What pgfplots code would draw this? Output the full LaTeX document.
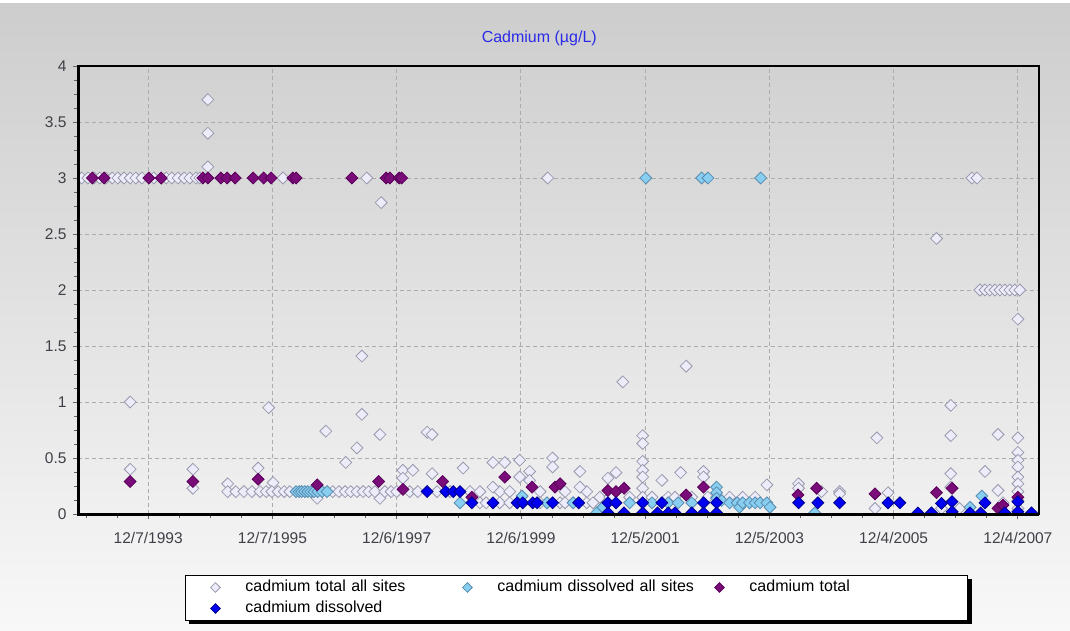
\documentclass[border=0pt]{standalone}
\usepackage{fontspec}
\setmainfont{Liberation Sans}
\usepackage{pgfplots}
\pgfplotsset{compat=1.18}
\definecolor{bgtop}{HTML}{CDCDCD}
\definecolor{bgbot}{HTML}{F8F8F8}
\definecolor{hollowfill}{HTML}{ECECFA}
\definecolor{hollowdraw}{HTML}{9A9AAE}
\definecolor{lbfill}{HTML}{87CEF0}
\definecolor{lbdraw}{HTML}{5A8CB0}
\definecolor{purp}{HTML}{7A0C7A}
\definecolor{purpdraw}{HTML}{5A005A}
\definecolor{bluef}{HTML}{0000F0}
\definecolor{bluedraw}{HTML}{00008C}
\definecolor{titleblue}{HTML}{2B2BE8}
\definecolor{ticklab}{HTML}{404048}
\pgfplotsset{
  mk/.style={only marks, mark=square*, mark size=4.2pt, mark options={rotate=45, line width=0.8pt},
    legend image code/.code={\path[draw=none,fill=none] (0pt,-5pt) rectangle (44pt,5pt); \draw[##1, mark size=3.4pt] plot coordinates {(17pt,0pt)};}},
}
\begin{document}
\begin{tikzpicture}
\useasboundingbox (0,0) rectangle (1070pt,630pt);
\shade[top color=bgtop, bottom color=bgbot] (0,0) rectangle (1070pt,630pt);
\fill[white] (0,627pt) rectangle (1070pt,630pt);
% legend shadow
\fill[black] (189pt,6pt) rectangle (972pt,51pt);
\begin{axis}[
  scale only axis, width=961pt, height=448pt,
  at={(78pt,116pt)}, anchor=south west,
  xmin=1992.80, xmax=2008.27, ymin=0, ymax=4,
  xtick={1993.93,1995.93,1997.93,1999.93,2001.93,2003.93,2005.93,2007.93},
  xticklabels={12/7/1993,12/7/1995,12/6/1997,12/6/1999,12/5/2001,12/5/2003,12/4/2005,12/4/2007},
  minor xtick={1992.93,1993.43,1994.43,1994.93,1995.43,1996.43,1996.93,1997.43,1998.43,1998.93,1999.43,2000.43,2000.93,2001.43,2002.43,2002.93,2003.43,2004.43,2004.93,2005.43,2006.43,2006.93,2007.43},
  ytick={0,0.5,1,1.5,2,2.5,3,3.5,4},
  yticklabels={0,0.5,1,1.5,2,2.5,3,3.5,4},
  minor y tick num=3,
  tick pos=left, tick align=outside,
  major tick length=5pt, minor tick length=4pt,
  every tick/.style={color=gray!80!black, line width=0.8pt},
  grid=major,
  major grid style={dash pattern=on 4pt off 3pt, color=gray!65, line width=0.9pt},
  axis line style={black, line width=1.5pt},
  tick label style={font=\fontsize{15.5}{18}\selectfont, color=ticklab},
  /pgf/number format/assume math mode=true,
  xticklabel style={yshift=-10pt},
  yticklabel style={xshift=-3pt},
  title={Cadmium (µg/L)},
  title style={at={(axis description cs:0.48,1.049)}, anchor=center, font=\fontsize{16}{19}\selectfont, color=titleblue},
  clip marker paths=true,
  legend columns=3, legend cell align=left,
  legend style={at={(axis description cs:0.1113,-0.1362)}, anchor=north west,
    draw=black, line width=1pt, fill=white,
    inner xsep=13pt, inner ysep=1.5pt,
    font=\fontsize{16}{18}\selectfont,
    nodes={text width=202pt, text height=11pt, text depth=4pt, inner ysep=3pt, inner xsep=3pt, align=left}},
  after end axis/.code={\draw[black, line width=3pt] (rel axis cs:0,1) -- (rel axis cs:0,0) -- (rel axis cs:1,0);},
]
% cadmium total all sites
\addplot[mk, draw=hollowdraw, fill=hollowfill] coordinates {
(1992.86,3)(1992.96,3)(1993.06,3)(1993.15,3)(1993.25,3)(1993.35,3)(1993.44,3)(1993.54,3)(1993.64,3)(1993.73,3)(1993.83,3)(1994.02,3)(1994.22,3)(1994.31,3)(1994.41,3)(1994.51,3)(1994.60,3)(1994.70,3)(1994.76,3)(1996.10,3)(1997.45,3)(2000.36,3)(2007.19,3)(2007.27,3)
(1994.89,3.1)(1994.89,3.4)(1994.89,3.7)(1997.68,2.78)(2006.62,2.46)
(2007.32,2)(2007.40,2)(2007.48,2)(2007.56,2)(2007.64,2)(2007.72,2)(2007.80,2)(2007.88,2)(2007.96,2)
(2007.93,1.74)(2002.59,1.32)(1997.37,1.41)(1997.37,0.89)(2001.57,1.18)(1993.64,1.0)(1993.64,0.40)(1995.87,0.95)
(2006.85,0.97)(2006.85,0.70)(2006.85,0.36)(2006.85,0.24)
(1996.79,0.74)(1997.66,0.71)(1997.66,0.14)(1998.42,0.73)(1998.50,0.71)(1998.50,0.36)(1997.29,0.59)(1997.11,0.46)
(2001.89,0.70)(2001.89,0.63)(2001.89,0.47)(2001.89,0.39)(2001.89,0.33)(2001.89,0.23)(2001.89,0.15)
(2007.61,0.71)(2007.61,0.21)
(2007.93,0.68)(2007.93,0.55)(2007.93,0.48)(2007.93,0.42)(2007.93,0.33)(2007.93,0.27)(2007.93,0.20)(2007.93,0.12)
(2005.66,0.68)(2007.40,0.38)
(1994.65,0.40)(1994.65,0.23)(1995.21,0.27)(1995.70,0.41)(1995.94,0.28)
(1995.21,0.2)(1995.34,0.2)(1995.47,0.2)(1995.60,0.2)(1995.73,0.2)(1995.83,0.2)(1995.92,0.2)(1996.02,0.2)(1996.12,0.2)(1996.21,0.2)(1996.90,0.2)(1997.00,0.2)(1997.10,0.2)(1997.19,0.2)(1997.29,0.2)(1997.39,0.2)(1997.48,0.2)(1997.58,0.2)(1997.74,0.2)(1997.84,0.2)(1997.93,0.2)(1998.14,0.2)(1998.27,0.2)(1998.58,0.2)(1998.79,0.2)(1999.11,0.2)(1999.27,0.2)(1999.59,0.2)(1999.75,0.2)(2000.24,0.2)(2000.64,0.2)(2000.99,0.2)
(1996.65,0.14)(1998.03,0.39)(1998.03,0.32)(1998.19,0.39)(1999.00,0.41)(1999.48,0.46)(1999.48,0.24)(1999.67,0.46)(1999.91,0.48)(1999.91,0.33)(2000.07,0.38)(2000.07,0.30)(2000.44,0.50)(2000.44,0.42)(2000.88,0.38)(2000.88,0.24)(2001.33,0.32)(2001.46,0.37)(2002.20,0.30)(2002.50,0.37)(2002.87,0.38)(2002.87,0.33)(2003.89,0.26)(2004.40,0.27)(2004.40,0.23)(2004.77,0.20)(2005.06,0.20)(2005.06,0.18)(2005.63,0.05)(2005.84,0.19)
(1999.27,0.1)(1999.37,0.1)(1999.59,0.1)(1999.75,0.1)(2000.24,0.1)(2000.35,0.1)(2000.56,0.1)(2000.64,0.1)(2000.77,0.1)(2000.99,0.1)(2001.09,0.1)
(2001.20,0.15)(2001.36,0.15)(2001.68,0.15)(2002.04,0.15)(2002.30,0.15)(2002.41,0.15)(2002.68,0.15)(2002.94,0.15)(2003.08,0.15)(2003.29,0.15)(2003.50,0.15)(2003.70,0.15)
(2007.93,0.05)(2006.99,0.05)(2007.69,0.10)(2006.70,0.05)
};
\addlegendentry{cadmium total all sites}
% cadmium dissolved all sites
\addplot[mk, draw=lbdraw, fill=lbfill] coordinates {
(2001.94,3)(2002.84,3)(2002.94,3)(2003.79,3)
(1996.31,0.2)(1996.36,0.2)(1996.40,0.2)(1996.45,0.2)(1996.50,0.2)(1996.55,0.2)(1996.60,0.2)(1996.66,0.2)(1996.73,0.2)(1996.81,0.2)
(1998.95,0.10)(1999.95,0.16)(2000.35,0.10)(2000.77,0.10)(2001.15,0.01)(2001.25,0.06)(2001.68,0.10)(2002.04,0.10)(2002.30,0.10)(2002.46,0.10)(2002.68,0.10)
(2003.08,0.24)(2003.08,0.19)(2003.08,0.14)(2003.16,0.12)
(2003.29,0.10)(2003.41,0.10)(2003.45,0.06)(2003.50,0.10)(2003.61,0.10)(2003.70,0.10)(2003.78,0.10)(2003.89,0.10)(2003.94,0.06)
(2004.66,0.01)(2007.16,0.06)(2007.35,0.16)
};
\addlegendentry{cadmium dissolved all sites}
% cadmium total
\addplot[mk, draw=purpdraw, fill=purp] coordinates {
(1993.03,3)(1993.22,3)(1993.94,3)(1994.14,3)(1994.81,3)(1994.89,3)(1995.10,3)(1995.20,3)(1995.33,3)(1995.62,3)(1995.79,3)(1995.91,3)(1996.26,3)(1996.31,3)(1997.21,3)(1997.76,3)(1997.82,3)(1997.97,3)(1998.01,3)
(1993.64,0.29)(1994.65,0.29)(1995.70,0.31)(1996.65,0.26)(1997.64,0.29)(1998.03,0.22)(1998.67,0.29)(1999.14,0.15)(1999.67,0.33)(2000.11,0.24)(2000.48,0.24)(2000.56,0.27)(2001.33,0.21)(2001.46,0.20)(2001.59,0.23)(2002.59,0.17)(2002.87,0.24)(2004.39,0.17)(2004.69,0.23)(2005.63,0.18)(2006.62,0.19)(2006.87,0.23)(2007.61,0.05)(2007.69,0.08)(2007.93,0.15)
};
\addlegendentry{cadmium total}
% cadmium dissolved
\addplot[mk, draw=bluedraw, fill=bluef] coordinates {
(1998.42,0.20)(1998.72,0.20)(1998.84,0.20)(1998.95,0.20)(1999.14,0.10)(1999.48,0.10)(1999.87,0.10)(1999.96,0.10)(2000.12,0.10)(2000.19,0.10)(2000.44,0.10)(2000.86,0.10)
(2001.33,0.10)(2001.33,0.01)(2001.46,0.10)(2001.59,0.01)(2001.89,0.10)(2001.89,0.01)(2002.13,0.01)(2002.20,0.10)(2002.30,0.01)(2002.41,0.01)(2002.68,0.01)(2002.87,0.10)(2002.87,0.01)(2003.08,0.10)(2003.08,0.01)
(2004.40,0.10)(2004.71,0.10)(2005.06,0.10)(2005.84,0.10)(2006.03,0.10)(2006.32,0.01)(2006.54,0.01)(2006.70,0.095)(2006.87,0.11)(2006.87,0.02)(2007.16,0.01)(2007.33,0.01)(2007.40,0.10)(2007.72,0.01)(2007.93,0.11)(2007.93,0.02)(2008.15,0.01)
};
\addlegendentry{cadmium dissolved}
\end{axis}
\end{tikzpicture}
\end{document}
